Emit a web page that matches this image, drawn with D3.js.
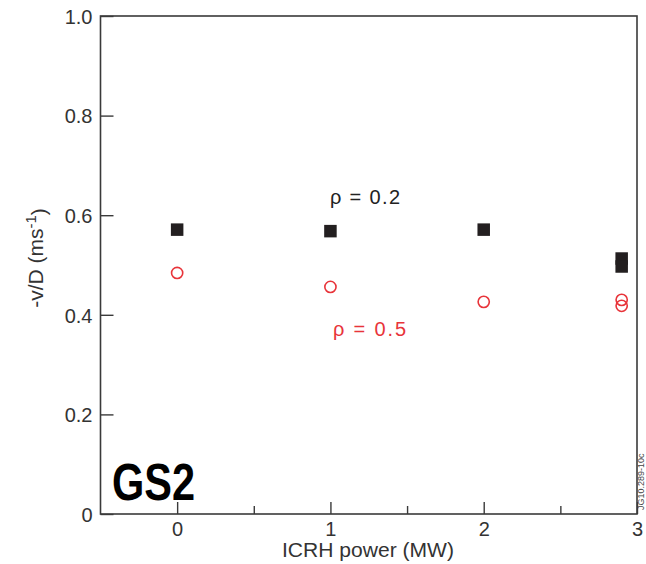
<!DOCTYPE html>
<html>
<head>
<meta charset="utf-8">
<script src="https://cdn.jsdelivr.net/npm/d3@7"></script>
<style>
  html, body { margin: 0; padding: 0; background: #fff; }
  svg { display: block; }
  text { font-family: "Liberation Sans", Arial, Helvetica, sans-serif; }
</style>
</head>
<body>
<svg id="chart" width="646" height="564"></svg>
<script>
// ---- data ----
const powerRho02 = [0, 1, 2, 2.9, 2.9];
const vdRho02    = [0.571, 0.568, 0.571, 0.513, 0.497];
const powerRho05 = [0, 1, 2, 2.9, 2.9];
const vdRho05    = [0.484, 0.456, 0.426, 0.430, 0.418];
const xMajorTicks = [0, 1, 2, 3];
const xMinorTicks = [0.5, 1.5, 2.5];
const yTicks = [0, 0.2, 0.4, 0.6, 0.8, 1.0];
const yTickLabels = ["0", "0.2", "0.4", "0.6", "0.8", "1.0"];
const xTickLabels = ["0", "1", "2", "3"];

// ---- layout ----
const svg = d3.select("#chart");
const pLeft = 100.5, pRight = 637, pTop = 16, pBottom = 514;
const x = d3.scaleLinear().domain([-0.5, 3]).range([pLeft, pRight]);
const y = d3.scaleLinear().domain([0, 1]).range([pBottom, pTop]);
const axisColor = "#3a3a3a";
const textColor = "#333";
const red = "#e8343a";
const black = "#231f20";

// frame
svg.append("rect")
  .attr("x", pLeft).attr("y", pTop)
  .attr("width", pRight - pLeft).attr("height", pBottom - pTop)
  .attr("fill", "none").attr("stroke", axisColor).attr("stroke-width", 1.6);

// bottom axis major
const gx = svg.append("g").attr("transform", `translate(0,${pBottom})`)
  .call(d3.axisBottom(x).tickValues(xMajorTicks).tickSize(-12).tickPadding(8)
        .tickFormat((d, i) => xTickLabels[i]));
gx.select(".domain").remove();
const gxm = svg.append("g").attr("transform", `translate(0,${pBottom})`)
  .call(d3.axisBottom(x).tickValues(xMinorTicks).tickSize(-8).tickFormat(""));
gxm.select(".domain").remove();

// left axis
const gy = svg.append("g").attr("transform", `translate(${pLeft},0)`)
  .call(d3.axisLeft(y).tickValues(yTicks).tickSize(-13).tickPadding(8)
        .tickFormat((d, i) => yTickLabels[i]));
gy.select(".domain").remove();

[gx, gxm, gy].forEach(g => {
  g.selectAll("line").attr("stroke", axisColor).attr("stroke-width", 1.4);
  g.selectAll("text").attr("fill", textColor)
    .style("font-family", '"Liberation Sans", Arial, sans-serif')
    .style("font-size", "20px");
});
gy.selectAll("text").attr("dy", "0.36em");

// axis titles
svg.append("text")
  .attr("x", 368).attr("y", 557)
  .attr("text-anchor", "middle").attr("fill", textColor)
  .attr("textLength", 172).attr("lengthAdjust", "spacingAndGlyphs")
  .style("font-size", "20px")
  .text("ICRH power (MW)");

const yt = svg.append("text")
  .attr("transform", `translate(43,258) rotate(-90)`)
  .attr("text-anchor", "middle").attr("fill", textColor)
  .style("font-size", "21px");
yt.append("tspan").text("-v/D (ms");
yt.append("tspan").attr("dy", "-0.45em").style("font-size", "15px").text("-1");
yt.append("tspan").attr("dy", "0.45em").text(")");

// markers: rho = 0.2 (filled squares)
const sq = 12.5;
svg.append("g").selectAll("rect")
  .data(powerRho02.map((p, i) => ({p, v: vdRho02[i]})))
  .join("rect")
  .attr("x", d => x(d.p) - sq / 2).attr("y", d => y(d.v) - sq / 2)
  .attr("width", sq).attr("height", sq)
  .attr("fill", black);

// markers: rho = 0.5 (open circles)
svg.append("g").selectAll("circle")
  .data(powerRho05.map((p, i) => ({p, v: vdRho05[i]})))
  .join("circle")
  .attr("cx", d => x(d.p)).attr("cy", d => y(d.v)).attr("r", 5.6)
  .attr("fill", "none").attr("stroke", red).attr("stroke-width", 1.6);

// annotations
svg.append("text").attr("x", 330).attr("y", 204)
  .attr("fill", "#222").style("font-size", "20px")
  .attr("textLength", 70).attr("lengthAdjust", "spacing")
  .text("ρ = 0.2");
svg.append("text").attr("x", 333).attr("y", 336)
  .attr("fill", red).style("font-size", "20px")
  .attr("textLength", 73).attr("lengthAdjust", "spacing")
  .text("ρ = 0.5");

// GS2 label
svg.append("text").attr("x", 112).attr("y", 500)
  .attr("fill", "#000")
  .style("font-family", '"Liberation Sans", Arial, sans-serif')
  .style("font-weight", "bold")
  .style("font-size", "52px")
  .attr("textLength", 83).attr("lengthAdjust", "spacingAndGlyphs")
  .text("GS2");

// figure id
svg.append("text")
  .attr("transform", `translate(644,510) rotate(-90)`)
  .attr("fill", "#444").style("font-size", "9px")
  .text("JG10.289-10c");
</script>
</body>
</html>
